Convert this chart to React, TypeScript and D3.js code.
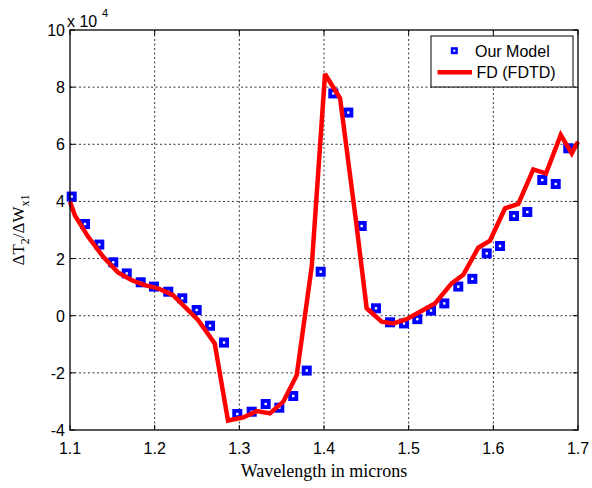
import React from 'react'
import * as d3 from 'd3'

// Our Model (markers)
const modelX = [1.102, 1.1177, 1.1346, 1.1511, 1.167, 1.1835, 1.1992, 1.2161, 1.2326, 1.2496, 1.2654, 1.2819,
  1.2976, 1.3146, 1.3311, 1.3472, 1.3637, 1.3796, 1.3961, 1.411, 1.4287, 1.4445, 1.4614, 1.478, 1.4945,
  1.5102, 1.5264, 1.5421, 1.5586, 1.5752, 1.5922, 1.6079, 1.6244, 1.6401, 1.6578, 1.6737, 1.6885]
const modelY = [4.17, 3.21, 2.49, 1.87, 1.48, 1.17, 1.02, 0.84, 0.61, 0.2, -0.35, -0.94,
  -3.44, -3.36, -3.09, -3.22, -2.81, -1.92, 1.54, 7.78, 7.11, 3.14, 0.26, -0.23, -0.27,
  -0.12, 0.18, 0.43, 1.02, 1.29, 2.18, 2.44, 3.49, 3.63, 4.75, 4.61, 5.86]

// FD (FDTD) line
const fdX = [1.1, 1.106, 1.1213, 1.139, 1.1567, 1.1724, 1.1882, 1.2039, 1.2217, 1.2512, 1.2709, 1.2866,
  1.3047, 1.3205, 1.3362, 1.3519, 1.3678, 1.3855, 1.4012, 1.419, 1.4386, 1.4504, 1.4681, 1.4819,
  1.4977, 1.5134, 1.5311, 1.5508, 1.5645, 1.5822, 1.5961, 1.6138, 1.6295, 1.6472, 1.6622, 1.6796, 1.6926, 1.7]
const fdY = [3.99, 3.5, 2.77, 2.07, 1.51, 1.25, 1.07, 0.96, 0.72, -0.15, -0.97, -3.67,
  -3.56, -3.34, -3.42, -3.01, -2.08, 1.72, 8.46, 7.61, 3.12, 0.26, -0.21, -0.27,
  -0.12, 0.14, 0.43, 1.13, 1.43, 2.38, 2.63, 3.76, 3.91, 5.12, 4.98, 6.33, 5.68, 6.09]

const xTicks = [1.1, 1.2, 1.3, 1.4, 1.5, 1.6, 1.7]
const yTicks = [-4, -2, 0, 2, 4, 6, 8, 10]

const W = 592
const H = 488
const left = 70, right = 578, top = 30, bottom = 430
const tickFont = 'Arial, "Liberation Sans", Helvetica, sans-serif'
const labelFont = '"Times New Roman", "Liberation Serif", Times, serif'

export default function App() {
  const x = d3.scaleLinear().domain([1.1, 1.7]).range([left, right])
  const y = d3.scaleLinear().domain([-4, 10]).range([bottom, top])

  const line = d3.line<number>()
    .x((d, i) => x(fdX[i]))
    .y((d) => y(d))

  return (
    <svg width={W} height={H} style={{ position: 'absolute', left: 0, top: 0, background: '#fff' }}>
      <rect x={0} y={0} width={W} height={H} fill="#fff" />
      {/* grid */}
      {xTicks.slice(1, -1).map((t) => (
        <line key={'gx' + t} x1={x(t)} x2={x(t)} y1={top} y2={bottom}
          stroke="#000" strokeWidth={0.8} strokeDasharray="2,2.5" />
      ))}
      {yTicks.slice(1, -1).map((t) => (
        <line key={'gy' + t} x1={left} x2={right} y1={y(t)} y2={y(t)}
          stroke="#000" strokeWidth={0.8} strokeDasharray="2,2.5" />
      ))}
      {/* tick marks */}
      {xTicks.map((t) => (
        <g key={'tx' + t}>
          <line x1={x(t)} x2={x(t)} y1={bottom} y2={bottom - 5} stroke="#000" />
          <line x1={x(t)} x2={x(t)} y1={top} y2={top + 5} stroke="#000" />
        </g>
      ))}
      {yTicks.map((t) => (
        <g key={'ty' + t}>
          <line x1={left} x2={left + 5} y1={y(t)} y2={y(t)} stroke="#000" />
          <line x1={right} x2={right - 5} y1={y(t)} y2={y(t)} stroke="#000" />
        </g>
      ))}
      {/* markers */}
      {modelY.map((d, i) => (
        <g key={'m' + i}>
          <rect x={x(modelX[i]) - 5} y={y(d) - 5} width={10} height={10} fill="#0000ff" />
          <rect x={x(modelX[i]) - 1.2} y={y(d) - 1.2} width={2.4} height={2.4} fill="#fff" />
        </g>
      ))}
      {/* FD line */}
      <path d={line(fdY) || ''} fill="none" stroke="#ff0000" strokeWidth={4.5} strokeLinejoin="miter" strokeMiterlimit={3} />
      {/* axes box */}
      <rect x={left} y={top} width={right - left} height={bottom - top} fill="none" stroke="#000" strokeWidth={1.3} />
      {/* tick labels */}
      {xTicks.map((t) => (
        <text key={'lx' + t} x={x(t)} y={bottom + 24} textAnchor="middle"
          fontFamily={tickFont} fontSize={16}>{d3.format('.1f')(t)}</text>
      ))}
      {yTicks.map((t) => (
        <text key={'ly' + t} x={left - 5} y={y(t) + 6} textAnchor="end"
          fontFamily={tickFont} fontSize={16}>{t}</text>
      ))}
      <text x={left - 3} y={top - 3} fontFamily={tickFont} fontSize={16}>x 10</text>
      <text x={left + 32} y={top - 13} fontFamily={tickFont} fontSize={11}>4</text>
      {/* axis labels */}
      <text x={(left + right) / 2} y={477} textAnchor="middle" fontFamily={labelFont} fontSize={18}>
        Wavelength in microns
      </text>
      <text transform={`translate(24, ${(top + bottom) / 2}) rotate(-90)`} textAnchor="middle"
        fontFamily={labelFont} fontSize={17}>
        ΔT<tspan dy={5} fontSize={12}>2</tspan><tspan dy={-5}>/ΔW</tspan><tspan dy={5} fontSize={12}>x1</tspan>
      </text>
      {/* legend */}
      <rect x={431} y={36} width={142} height={51} fill="#fff" stroke="#000" strokeWidth={1} />
      <rect x={454.3 - 3.5} y={50.7 - 3.5} width={7} height={7} fill="#0000ff" />
      <rect x={454.3 - 1} y={50.7 - 1} width={2} height={2} fill="#fff" />
      <text x={475} y={56.5} fontFamily={tickFont} fontSize={16}>Our Model</text>
      <line x1={437.5} x2={472} y1={72.3} y2={72.3} stroke="#ff0000" strokeWidth={4.5} />
      <text x={476.5} y={78} fontFamily={tickFont} fontSize={16}>FD (FDTD)</text>
    </svg>
  )
}
